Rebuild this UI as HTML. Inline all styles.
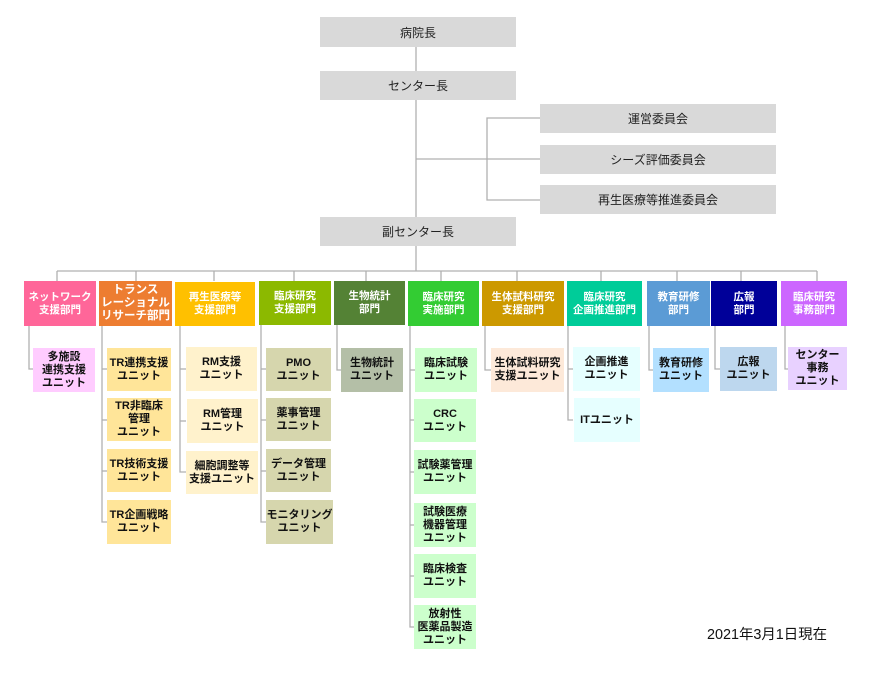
<!DOCTYPE html>
<html><head><meta charset="utf-8"><style>
body{margin:0;width:877px;height:673px;background:#fff;position:relative;overflow:hidden;font-family:"Liberation Sans","Noto Sans CJK JP",sans-serif;}
.b{position:absolute;display:flex;align-items:center;justify-content:center;text-align:center;box-sizing:border-box;}
.g{background:#d9d9d9;font-size:12px;color:#222;}
.d{color:#fff;font-weight:bold;font-size:10.5px;line-height:13px;}
.u{color:#111;font-weight:bold;font-size:11px;line-height:13px;}
svg{position:absolute;left:0;top:0;}
</style></head><body>
<svg width="877" height="673">
<g stroke="#b0b0b0" stroke-width="1.3" fill="none">
<line x1="416" y1="47" x2="416" y2="71"/>
<line x1="416" y1="99" x2="416" y2="217"/>
<line x1="416" y1="159" x2="540" y2="159"/>
<polyline points="540,118 487,118 487,200 540,200"/>
<line x1="416" y1="246" x2="416" y2="271"/>
<line x1="57" y1="271" x2="817" y2="271"/>
<line x1="57" y1="271" x2="57" y2="281"/>
<line x1="136" y1="271" x2="136" y2="281"/>
<line x1="214" y1="271" x2="214" y2="281"/>
<line x1="294" y1="271" x2="294" y2="281"/>
<line x1="366" y1="271" x2="366" y2="281"/>
<line x1="441" y1="271" x2="441" y2="281"/>
<line x1="517" y1="271" x2="517" y2="281"/>
<line x1="601" y1="271" x2="601" y2="281"/>
<line x1="677" y1="271" x2="677" y2="281"/>
<line x1="741" y1="271" x2="741" y2="281"/>
<line x1="817" y1="271" x2="817" y2="281"/>
<polyline points="29,325 29,369 33,369"/>
<polyline points="102,325 102,522 107,522"/>
<line x1="102" y1="369" x2="107" y2="369"/><line x1="102" y1="420" x2="107" y2="420"/><line x1="102" y1="471" x2="107" y2="471"/>
<polyline points="180,325 180,472 186,472"/>
<line x1="180" y1="369" x2="186" y2="369"/><line x1="180" y1="421" x2="186" y2="421"/>
<polyline points="261,325 261,522 266,522"/>
<line x1="261" y1="369" x2="266" y2="369"/><line x1="261" y1="420" x2="266" y2="420"/><line x1="261" y1="471" x2="266" y2="471"/>
<polyline points="337,325 337,370 341,370"/>
<polyline points="410,325 410,627 415,627"/>
<line x1="410" y1="370" x2="415" y2="370"/><line x1="410" y1="420" x2="415" y2="420"/><line x1="410" y1="472" x2="415" y2="472"/><line x1="410" y1="525" x2="415" y2="525"/><line x1="410" y1="576" x2="415" y2="576"/>
<polyline points="485,325 485,370 491,370"/>
<polyline points="568,325 568,420 573,420"/>
<line x1="568" y1="369" x2="573" y2="369"/>
<polyline points="649,325 649,370 653,370"/>
<polyline points="715,325 715,369 720,369"/>
<polyline points="785,325 785,369 788,369"/>
</g></svg>
<div class="b g" style="left:320px;top:17px;width:196px;height:30px">病院長</div>
<div class="b g" style="left:320px;top:71px;width:196px;height:29px">センター長</div>
<div class="b g" style="left:540px;top:104px;width:236px;height:29px">運営委員会</div>
<div class="b g" style="left:540px;top:145px;width:236px;height:29px">シーズ評価委員会</div>
<div class="b g" style="left:540px;top:185px;width:236px;height:29px">再生医療等推進委員会</div>
<div class="b g" style="left:320px;top:217px;width:196px;height:29px">副センター長</div>

<div class="b d" style="left:24px;top:281px;width:72px;height:45px;background:#ff6699">ネットワーク<br>支援部門</div>
<div class="b d" style="left:99px;top:281px;width:73px;height:45px;background:#ed7d31;font-size:11.5px">トランス<br>レーショナル<br>リサーチ部門</div>
<div class="b d" style="left:175px;top:282px;width:80px;height:44px;background:#ffc000">再生医療等<br>支援部門</div>
<div class="b d" style="left:259px;top:281px;width:72px;height:44px;background:#8cb900">臨床研究<br>支援部門</div>
<div class="b d" style="left:334px;top:281px;width:71px;height:44px;background:#548235">生物統計<br>部門</div>
<div class="b d" style="left:408px;top:281px;width:71px;height:45px;background:#33cc33">臨床研究<br>実施部門</div>
<div class="b d" style="left:482px;top:281px;width:82px;height:45px;background:#cc9900">生体試料研究<br>支援部門</div>
<div class="b d" style="left:567px;top:281px;width:75px;height:45px;background:#00cc99">臨床研究<br>企画推進部門</div>
<div class="b d" style="left:647px;top:281px;width:63px;height:45px;background:#5b9bd5">教育研修<br>部門</div>
<div class="b d" style="left:711px;top:281px;width:66px;height:45px;background:#000099">広報<br>部門</div>
<div class="b d" style="left:781px;top:281px;width:66px;height:45px;background:#cc66ff">臨床研究<br>事務部門</div>

<div class="b u" style="left:33px;top:348px;width:62px;height:44px;background:#ffccff">多施設<br>連携支援<br>ユニット</div>

<div class="b u" style="left:107px;top:348px;width:64px;height:43px;background:#ffe599">TR連携支援<br>ユニット</div>
<div class="b u" style="left:107px;top:398px;width:64px;height:43px;background:#ffe599">TR非臨床<br>管理<br>ユニット</div>
<div class="b u" style="left:107px;top:449px;width:64px;height:43px;background:#ffe599">TR技術支援<br>ユニット</div>
<div class="b u" style="left:107px;top:500px;width:64px;height:44px;background:#ffe599">TR企画戦略<br>ユニット</div>

<div class="b u" style="left:186px;top:347px;width:71px;height:44px;background:#fff2cc">RM支援<br>ユニット</div>
<div class="b u" style="left:187px;top:399px;width:71px;height:44px;background:#fff2cc">RM管理<br>ユニット</div>
<div class="b u" style="left:186px;top:451px;width:72px;height:43px;background:#fff2cc">細胞調整等<br>支援ユニット</div>

<div class="b u" style="left:266px;top:348px;width:65px;height:43px;background:#d6d6ad">PMO<br>ユニット</div>
<div class="b u" style="left:266px;top:398px;width:65px;height:43px;background:#d6d6ad">薬事管理<br>ユニット</div>
<div class="b u" style="left:266px;top:449px;width:65px;height:43px;background:#d6d6ad">データ管理<br>ユニット</div>
<div class="b u" style="left:266px;top:500px;width:67px;height:44px;background:#d6d6ad">モニタリング<br>ユニット</div>

<div class="b u" style="left:341px;top:348px;width:62px;height:44px;background:#b4bfa7">生物統計<br>ユニット</div>

<div class="b u" style="left:415px;top:348px;width:62px;height:44px;background:#ccffcc">臨床試験<br>ユニット</div>
<div class="b u" style="left:414px;top:399px;width:62px;height:43px;background:#ccffcc">CRC<br>ユニット</div>
<div class="b u" style="left:414px;top:450px;width:62px;height:44px;background:#ccffcc">試験薬管理<br>ユニット</div>
<div class="b u" style="left:414px;top:503px;width:62px;height:44px;background:#ccffcc">試験医療<br>機器管理<br>ユニット</div>
<div class="b u" style="left:414px;top:554px;width:62px;height:44px;background:#ccffcc">臨床検査<br>ユニット</div>
<div class="b u" style="left:414px;top:605px;width:62px;height:44px;background:#ccffcc">放射性<br>医薬品製造<br>ユニット</div>

<div class="b u" style="left:491px;top:348px;width:73px;height:44px;background:#fde9d9">生体試料研究<br>支援ユニット</div>

<div class="b u" style="left:573px;top:347px;width:67px;height:44px;background:#e6ffff">企画推進<br>ユニット</div>
<div class="b u" style="left:574px;top:398px;width:66px;height:44px;background:#e6ffff">ITユニット</div>

<div class="b u" style="left:653px;top:348px;width:56px;height:44px;background:#b3e0ff">教育研修<br>ユニット</div>
<div class="b u" style="left:720px;top:347px;width:57px;height:44px;background:#bdd7ee">広報<br>ユニット</div>
<div class="b u" style="left:788px;top:347px;width:59px;height:43px;background:#e8d1ff">センター<br>事務<br>ユニット</div>

<div style="position:absolute;left:707px;top:623px;font-size:14.4px;color:#111;white-space:nowrap">2021年3月1日現在</div>
</body></html>
